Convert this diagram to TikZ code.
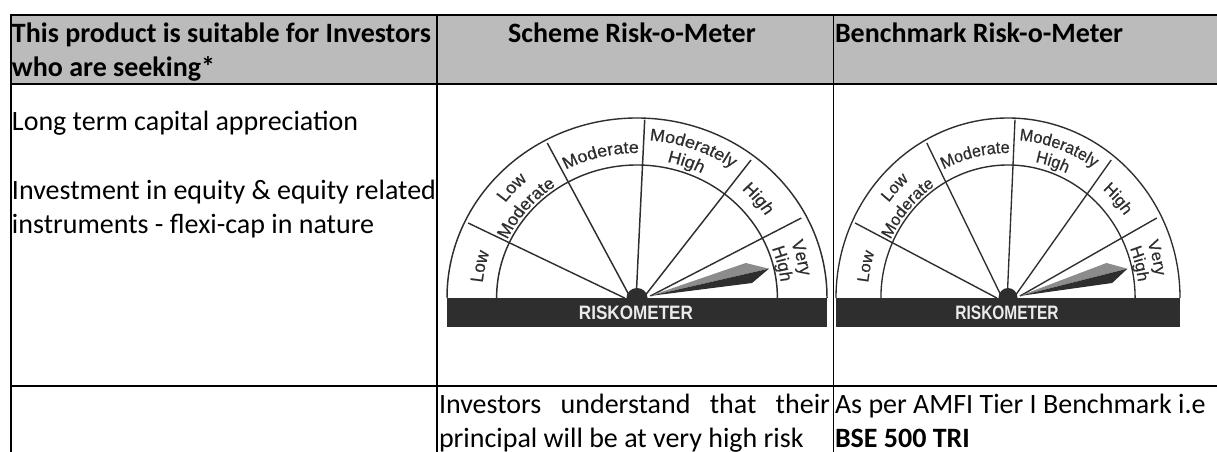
\documentclass[tikz,border=0pt]{standalone}
\usepackage{fontspec}
\setmainfont{Carlito}
\newfontfamily\metfam{Liberation Sans}
\newfontfamily\metheavy[RawFeature={embolden=0.5}]{Liberation Sans}
\usetikzlibrary{decorations.text}
\definecolor{hdrgray}{HTML}{BBBBBB}
\definecolor{metdark}{HTML}{2E2E2E}
\definecolor{metmid}{HTML}{8C8C8C}
\newcommand\bodyfs{\fontsize{28pt}{33.5pt}\selectfont}
\newcommand\labfs{\metheavy\fontsize{17pt}{17pt}\selectfont}
\tikzset{
  every picture/.append style={x=1pt,y=1pt},
  grid line/.style={line width=2pt,black},
  thin grid/.style={line width=1.6pt,black},
  cell/.style={anchor=base west,inner sep=0pt,outer sep=0pt,text=black,font=\bodyfs},
  cellb/.style={cell,font=\bodyfs\bfseries},
  met line/.style={line width=1.4pt,metdark},
  arc label/.style={decorate,decoration={text along path,text align=center,text color=metdark}}
}
% #1 centre angle, #2 baseline radius, #3 text
\newcommand\arclab[3]{%
  \path[arc label,decoration={text={|\labfs|#3}}]
    (#1+45:#2) arc[start angle=#1+45,end angle=#1-45,radius=#2];}
\newcommand\meterdraw{%
  \draw[met line] (180,0) arc[start angle=0,end angle=180,radius=180];
  \draw[met line] (133,0) arc[start angle=0,end angle=180,radius=133];
  \draw[met line] (-160,75) -- (-11.7,0);
  \draw[met line] (-85,155) -- (-7.6,3);
  \draw[met line] (7.3,178.3) -- (-0.6,5);
  \draw[met line] (108,138) -- (8.8,4);
  \draw[met line] (155.7,80) -- (12.6,2);
  \fill[metmid] (12,2) -- (103,35) -- (125,29.3) -- cycle;
  \fill[metdark] (12,2) -- (125,29.3) -- (109,15) -- cycle;
  \fill[metdark] (10,0) arc[start angle=0,end angle=180,radius=10] -- cycle;
  \fill[metdark] (-180,0) rectangle (180,-29);
  \node[text=white!92!black,font=\metfam\fontsize{16.2pt}{16pt}\selectfont\bfseries,inner sep=0pt,transform shape,yscale=1.2] (rk) at (-1,-14.5) {RISKOMETER};
  \arclab{168}{147}{Low}
  \arclab{137}{157}{Low}
  \arclab{139.5}{136}{Moderate}
  \arclab{103.5}{145}{Moderate}
  \arclab{70.5}{158}{Moderately}
  \arclab{71}{139}{High}
  \arclab{40.8}{147}{High}
  \arclab{14.5}{156}{Very}
  \arclab{14}{137}{High}
}
\begin{document}
\begin{tikzpicture}
\useasboundingbox (0,0) rectangle (1217,452);
\fill[white] (0,0) rectangle (1217,452);
\fill[hdrgray] (11,368) rectangle (1217,437);
\draw[grid line] (10,437) -- (1217,437);
\draw[grid line] (10,367.5) -- (1217,367.5);
\draw[grid line] (10,65.5) -- (1217,65.5);
\draw[grid line] (11,438) -- (11,0);
\draw[grid line] (436.7,438) -- (436.7,0);
\draw[thin grid] (833.3,438) -- (833.3,0);

\node[cellb] (h1a) at (12,409) {This product is suitable for Investors};
\node[cellb] (h1b) at (12,375) {who are seeking*};
\node[cellb,anchor=base] (h2) at (632,409) {Scheme Risk-o-Meter};
\node[cellb] (h3) at (835,409) {Benchmark Risk-o-Meter};
\node[cell] (a1) at (12,321.5) {Long term capital appreciation};
\node[cell] (a2) at (12,252) {Investment in equity \& equity related};
\node[cell] (a3) at (12,218.5) {instruments - flexi-cap in nature};
\node[cell] (b1) at (439,38) {\makebox[391pt][s]{Investors understand that their}};
\node[cell] (b2) at (439,5) {principal will be at very high risk};
\node[cell] (c1) at (835,38) {As per AMFI Tier I Benchmark i.e};
\node[cellb] (c2) at (835,5) {BSE 500 TRI};

\begin{scope}[transform canvas={shift={(637pt,154pt)},xscale=1.0556}]
\meterdraw
\end{scope}
\begin{scope}[transform canvas={shift={(1008pt,154pt)},xscale=0.9556}]
\meterdraw
\end{scope}
\end{tikzpicture}
\end{document}
